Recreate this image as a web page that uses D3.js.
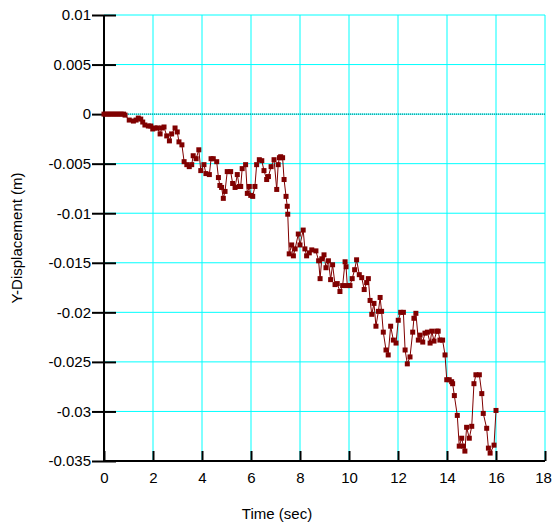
<!DOCTYPE html>
<html>
<head>
	<meta charset="utf-8">
	<title>Y-Displacement</title>
	<script src="https://d3js.org/d3.v7.min.js"></script>
	<style>
		body { margin: 0; background: #fff; }
		text { font-family: "Liberation Sans", Arial, sans-serif; fill: #000; }
	</style>
</head>
<body>
	<div id="chart"></div>

	<script>
		// Time (sec) and Y-displacement (m)
		const times = [
			0, 0.1, 0.2, 0.3, 0.4, 0.5, 0.6, 0.7, 0.8, 0.86,
			1.03, 1.20, 1.31, 1.40, 1.50, 1.58, 1.67, 1.81, 1.91, 1.99,
			2.08, 2.18, 2.29, 2.36, 2.45, 2.56, 2.67, 2.76, 2.90, 2.99,
			3.06, 3.18, 3.27, 3.38, 3.48, 3.58, 3.64, 3.76, 3.87, 3.95,
			4.08, 4.16, 4.30, 4.37, 4.46, 4.60, 4.67, 4.73, 4.80, 4.87,
			4.94, 5.03, 5.17, 5.25, 5.35, 5.44, 5.52, 5.58, 5.64, 5.78,
			5.85, 5.93, 5.99, 6.07, 6.16, 6.23, 6.34, 6.44, 6.53, 6.64,
			6.71, 6.82, 6.94, 7.05, 7.11, 7.16, 7.21, 7.29, 7.35, 7.43,
			7.48, 7.50, 7.56, 7.66, 7.73, 7.80, 7.93, 8.00, 8.13, 8.20,
			8.27, 8.38, 8.48, 8.65, 8.76, 8.82, 8.89, 8.98, 9.06, 9.16,
			9.25, 9.33, 9.43, 9.52, 9.63, 9.74, 9.84, 9.88, 9.93, 10.04,
			10.13, 10.23, 10.31, 10.42, 10.52, 10.62, 10.72, 10.79, 10.86, 10.93,
			11.02, 11.10, 11.20, 11.27, 11.33, 11.40, 11.51, 11.60, 11.70, 11.81,
			11.92, 12.01, 12.11, 12.22, 12.29, 12.38, 12.49, 12.60, 12.65, 12.73,
			12.83, 12.90, 13.01, 13.10, 13.20, 13.31, 13.38, 13.47, 13.58, 13.64,
			13.71, 13.82, 13.92, 13.99, 14.09, 14.19, 14.23, 14.30, 14.42, 14.50,
			14.60, 14.67, 14.73, 14.80, 14.91, 15.01, 15.10, 15.18, 15.32, 15.42,
			15.48, 15.62, 15.69, 15.76, 15.92, 16.00
		];
		const displacements = [
			0, 0, 0, 0, 0, 0, 0, 0, 0, -0.0001,
			-0.0006, -0.0007, -0.0006, -0.0004, -0.0005, -0.0008, -0.0011, -0.0012, -0.0012, -0.0015,
			-0.0014, -0.0014, -0.0020, -0.0014, -0.0013, -0.0022, -0.0027, -0.0020, -0.0014, -0.0018,
			-0.0028, -0.0031, -0.0048, -0.0051, -0.0053, -0.0051, -0.0042, -0.0045, -0.0036, -0.0057,
			-0.0051, -0.0060, -0.0061, -0.0045, -0.0045, -0.0048, -0.0064, -0.0072, -0.0074, -0.0085,
			-0.0078, -0.0058, -0.0058, -0.0070, -0.0074, -0.0061, -0.0073, -0.0073, -0.0055, -0.0051,
			-0.0080, -0.0073, -0.0082, -0.0083, -0.0073, -0.0051, -0.0046, -0.0047, -0.0057, -0.0066,
			-0.0063, -0.0053, -0.0046, -0.0076, -0.0051, -0.0044, -0.0043, -0.0044, -0.0066, -0.0083,
			-0.0093, -0.0101, -0.0141, -0.0132, -0.0143, -0.0136, -0.0121, -0.0132, -0.0117, -0.0136,
			-0.0143, -0.0140, -0.0137, -0.0138, -0.0148, -0.0166, -0.0146, -0.0142, -0.0155, -0.0148,
			-0.0167, -0.0152, -0.0172, -0.0171, -0.0179, -0.0173, -0.0149, -0.0154, -0.0173, -0.0173,
			-0.0166, -0.0157, -0.0147, -0.0162, -0.0165, -0.0177, -0.0170, -0.0166, -0.0188, -0.0202,
			-0.0191, -0.0214, -0.0199, -0.0185, -0.0199, -0.0220, -0.0238, -0.0243, -0.0214, -0.0228,
			-0.0231, -0.0208, -0.0200, -0.0200, -0.0238, -0.0252, -0.0245, -0.0220, -0.0206, -0.0201,
			-0.0228, -0.0223, -0.0230, -0.0221, -0.0220, -0.0231, -0.0219, -0.0229, -0.0219, -0.0219,
			-0.0228, -0.0228, -0.0243, -0.0268, -0.0268, -0.0270, -0.0272, -0.0284, -0.0304, -0.0335,
			-0.0327, -0.0335, -0.0340, -0.0316, -0.0327, -0.0315, -0.0272, -0.0263, -0.0263, -0.0282,
			-0.0302, -0.0317, -0.0337, -0.0342, -0.0334, -0.0299
		];
		const xTicks = [0, 2, 4, 6, 8, 10, 12, 14, 16, 18];
		const yTicks = [0.01, 0.005, 0, -0.005, -0.01, -0.015, -0.02, -0.025, -0.03, -0.035];
		const yTickLabels = ["0.01", "0.005", "0", "-0.005", "-0.01", "-0.015", "-0.02", "-0.025", "-0.03", "-0.035"];

		const data = times.map((t, i) => ({ t: t, v: displacements[i] }));

		const W = 552, H = 523;
		const margin = { top: 15, right: 7, bottom: 62, left: 104 };
		const width = W - margin.left - margin.right;
		const height = H - margin.top - margin.bottom;

		const svg = d3.select("#chart")
			.append("svg")
			.attr("width", W)
			.attr("height", H);
		const g = svg.append("g")
			.attr("transform", `translate(${margin.left},${margin.top})`);

		const x = d3.scaleLinear().domain([0, 18]).range([0, width]);
		const y = d3.scaleLinear().domain([-0.035, 0.01]).range([height, 0]);

		// grid
		g.selectAll(".vgrid")
			.data(xTicks.filter(d => d > 0))
			.enter().append("line")
			.attr("x1", d => x(d)).attr("x2", d => x(d))
			.attr("y1", 0).attr("y2", height)
			.attr("stroke", "#00ffff").attr("stroke-width", 1);
		g.selectAll(".hgrid")
			.data(yTicks.filter(d => d > -0.035))
			.enter().append("line")
			.attr("x1", 0).attr("x2", width)
			.attr("y1", d => y(d)).attr("y2", d => y(d))
			.attr("stroke", "#00ffff").attr("stroke-width", 1);
		// dotted zero line
		g.append("line")
			.attr("x1", 0).attr("x2", width)
			.attr("y1", y(0)).attr("y2", y(0))
			.attr("stroke", "#006a6a").attr("stroke-width", 1)
			.attr("stroke-dasharray", "1,1");

		// y axis
		const yAxis = g.append("g")
			.call(d3.axisLeft(y).tickValues(yTicks).tickSize(12)
				.tickFormat((d, i) => yTickLabels[i]));
		yAxis.select(".domain").remove();
		yAxis.selectAll(".tick line").attr("x1", 12).attr("x2", -12)
			.attr("stroke", "#000").attr("stroke-width", 2);
		yAxis.selectAll(".tick text").style("font-size", "15px")
			.attr("font-family", null).attr("x", -13);
		g.append("line")
			.attr("x1", 0).attr("x2", 0).attr("y1", 0).attr("y2", height)
			.attr("stroke", "#000").attr("stroke-width", 2);

		// x axis
		const xAxis = g.append("g")
			.attr("transform", `translate(0,${height})`)
			.call(d3.axisBottom(x).tickValues(xTicks).tickSize(0).tickPadding(11));
		xAxis.select(".domain").remove();
		xAxis.selectAll(".tick line").attr("y1", -10).attr("y2", 0)
			.attr("stroke", "#000").attr("stroke-width", 2);
		xAxis.selectAll(".tick text").style("font-size", "15px").attr("font-family", null)
			.attr("dx", d => d === 18 ? -2 : 0);
		g.append("line")
			.attr("x1", 0).attr("x2", width).attr("y1", height).attr("y2", height)
			.attr("stroke", "#000").attr("stroke-width", 2);

		// series
		const line = d3.line().x(d => x(d.t)).y(d => y(d.v));
		g.append("path")
			.datum(data)
			.attr("d", line)
			.attr("fill", "none")
			.attr("stroke", "#800000")
			.attr("stroke-width", 1);
		g.selectAll(".pt")
			.data(data)
			.enter().append("rect")
			.attr("x", d => x(d.t) - 2.5)
			.attr("y", d => y(d.v) - 2.5)
			.attr("width", 5).attr("height", 5)
			.attr("fill", "#800000");

		// axis titles
		svg.append("text")
			.attr("x", 277)
			.attr("y", 519)
			.attr("text-anchor", "middle")
			.style("font-size", "15px")
			.text("Time (sec)");
		svg.append("text")
			.attr("transform", `translate(22,238) rotate(-90)`)
			.attr("text-anchor", "middle")
			.style("font-size", "15px")
			.text("Y-Displacement (m)");
	</script>
</body>
</html>
